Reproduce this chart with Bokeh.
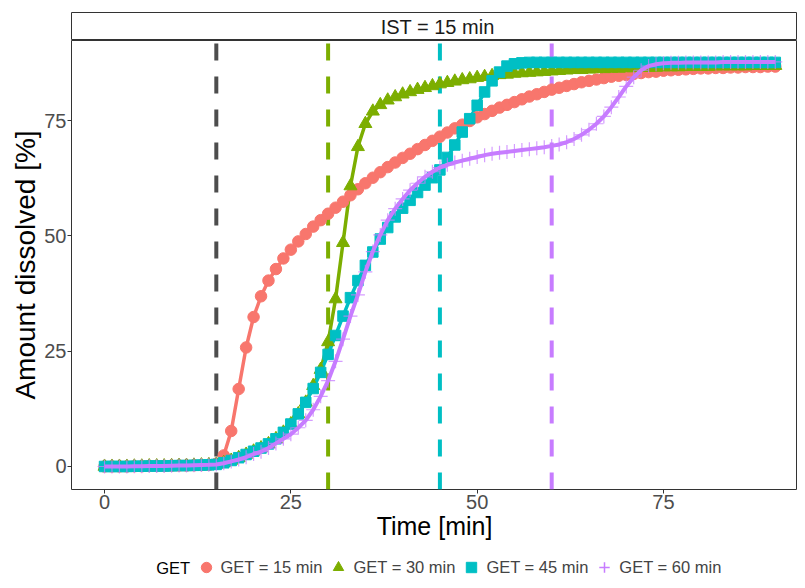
from bokeh.plotting import figure
from bokeh.layouts import column
from bokeh.models import Range1d, FixedTicker, Label, Legend, LegendItem
from bokeh.embed import file_html
from bokeh.resources import INLINE

# ---------------- data ----------------
time_min = list(range(0, 91))
get_labels = ["GET = 15 min", "GET = 30 min", "GET = 45 min", "GET = 60 min"]
get_times = [15, 30, 45, 60]
ist_time = 15
strip_text = "IST = 15 min"
legend_title = "GET"
x_ticks = [0, 25, 50, 75]
y_ticks = [0, 25, 50, 75]

base = [0.0, 0.0, 0.0, 0.0, 0.05, 0.05, 0.1, 0.1, 0.1, 0.15, 0.2, 0.2, 0.25, 0.3, 0.35]

red = base + [0.6, 2.4, 7.7, 16.8, 25.8, 32.4, 36.9, 40.3, 42.8, 45.1,
              47.0, 48.8, 50.4, 52.0, 53.4, 54.8, 56.1, 57.4, 58.8, 60.1,
              61.4, 62.6, 63.8, 64.9, 65.9, 66.9, 67.8, 68.8, 69.7, 70.6,
              71.5, 72.4, 73.3, 74.1, 74.9, 75.7, 76.4, 77.1, 77.8, 78.4,
              79.0, 79.6, 80.2, 80.7, 81.2, 81.7, 82.1, 82.5, 82.9, 83.3,
              83.6, 83.9, 84.2, 84.5, 84.7, 84.9, 85.1, 85.3, 85.5, 85.6,
              85.8, 85.9, 86.0, 86.1, 86.2, 86.3, 86.3, 86.4, 86.4, 86.5,
              86.5, 86.6, 86.6, 86.6, 86.7, 86.7]

green = base + [0.45, 0.8, 1.3, 1.9, 2.6, 3.3, 4.0, 4.9, 6.0, 7.4,
                9.2, 11.4, 13.9, 17.5, 21.0, 27.0, 36.3, 48.5, 60.8, 69.3,
                74.3, 77.0, 78.4, 79.4, 80.1, 80.7, 81.2, 81.7, 82.1, 82.5,
                82.9, 83.2, 83.5, 83.8, 84.0, 84.3, 84.5, 84.7, 84.9, 85.0,
                85.2, 85.3, 85.4, 85.5, 85.6, 85.7, 85.8, 85.9, 86.0, 86.0,
                86.1, 86.2, 86.2, 86.3, 86.3, 86.4, 86.4, 86.5, 86.5, 86.5,
                86.6, 86.6, 86.6, 86.7, 86.7, 86.7, 86.7, 86.8, 86.8, 86.8,
                86.8, 86.8, 86.9, 86.9, 86.9, 86.9]

cyan = base + [0.45, 0.8, 1.3, 1.9, 2.6, 3.3, 4.0, 4.9, 6.0, 7.4,
               9.2, 11.4, 13.9, 16.9, 20.4, 24.3, 28.4, 32.6, 36.6, 40.3,
               43.6, 46.5, 49.3, 51.8, 54.1, 56.0, 57.7, 59.4, 61.0, 62.6,
               64.3, 67.0, 69.7, 72.5, 75.4, 78.3, 81.2, 83.6, 85.5, 86.8,
               87.3, 87.5, 87.6, 87.6, 87.6, 87.6, 87.6, 87.6, 87.6, 87.6,
               87.6, 87.6, 87.6, 87.6, 87.6, 87.6, 87.6, 87.6, 87.6, 87.6,
               87.6, 87.6, 87.6, 87.6, 87.6, 87.6, 87.6, 87.6, 87.6, 87.6,
               87.6, 87.6, 87.6, 87.6, 87.6, 87.6]

purple = base + [0.45, 0.7, 1.1, 1.5, 2.0, 2.7, 3.2, 4.0, 5.0, 6.0,
                 7.0, 8.4, 10.0, 12.3, 15.2, 18.6, 22.8, 27.6, 32.6, 37.2,
                 42.2, 46.6, 50.2, 53.4, 55.9, 58.0, 59.9, 61.4, 62.8, 63.9,
                 64.8, 65.4, 65.9, 66.3, 66.7, 67.1, 67.5, 67.8, 68.0, 68.2,
                 68.4, 68.6, 68.8, 69.0, 69.2, 69.5, 69.8, 70.3, 71.0, 71.9,
                 73.0, 74.3, 75.9, 77.9, 80.1, 82.4, 84.4, 85.9, 86.8, 87.2,
                 87.4, 87.5, 87.5, 87.6, 87.6, 87.6, 87.6, 87.6, 87.7, 87.7,
                 87.7, 87.7, 87.7, 87.7, 87.7, 87.7]

series = [red, green, cyan, purple]
colors = ["#F8766D", "#7CAE00", "#00BFC4", "#C77CFF"]
ist_color = "#4D4D4D"

# ---------------- styling / layout ----------------
FONT = "Liberation Sans"
W = 797
LEFT = 71
x_range = Range1d(-4.43, 92.98)
y_lo, y_hi = -4.99, 92.35

# --- facet strip ---
strip = figure(width=W, height=40, output_backend="svg", toolbar_location=None,
               title=None, x_range=x_range, y_range=Range1d(0, 1),
               x_axis_location=None, y_axis_location=None,
               min_border_left=LEFT, min_border_right=0, min_border_top=12,
               min_border_bottom=0)
strip.grid.visible = False
strip.outline_line_color = "#333333"
strip.outline_line_width = 1
strip.background_fill_color = "white"
strip.border_fill_color = "white"
strip.add_layout(Label(x=44.7, y=0.5, text=strip_text, text_align="center",
                       text_baseline="middle", text_font=FONT,
                       text_font_size="20px", text_color="#1A1A1A"))

# --- main panel ---
p = figure(width=W, height=507, output_backend="svg", toolbar_location=None,
           title=None, x_range=x_range, y_range=Range1d(y_lo, y_hi),
           min_border_left=LEFT, min_border_right=0, min_border_top=0,
           min_border_bottom=58)
p.grid.visible = False
p.outline_line_color = "#333333"
p.outline_line_width = 1
p.background_fill_color = "white"
p.border_fill_color = "white"

for ax, ticks in ((p.xaxis, x_ticks), (p.yaxis, y_ticks)):
    ax.ticker = FixedTicker(ticks=ticks)
    ax.axis_line_color = None
    ax.major_tick_line_color = "#333333"
    ax.major_tick_line_width = 1
    ax.major_tick_out = 4
    ax.major_tick_in = 0
    ax.minor_tick_line_color = None
    ax.major_label_text_font = FONT
    ax.major_label_text_font_size = "20px"
    ax.major_label_text_color = "#4D4D4D"
    ax.major_label_standoff = 1
    ax.axis_label_text_font = FONT
    ax.axis_label_text_font_style = "normal"
    ax.axis_label_text_color = "black"
    ax.axis_label_standoff = 0

p.xaxis.axis_label = "Time [min]"
p.xaxis.axis_label_text_font_size = "25px"
p.yaxis.axis_label = "Amount dissolved [%]"
p.yaxis.axis_label_text_font_size = "28px"

# vertical dashed lines (GET lines, then the IST line on top)
vl_x = [t for t in get_times if t != ist_time]
vl_c = [c for t, c in zip(get_times, colors) if t != ist_time]
p.segment(x0=vl_x, y0=[y_lo] * len(vl_x), x1=vl_x, y1=[y_hi] * len(vl_x),
          line_color=vl_c, line_width=4, line_dash="17 16")
p.segment(x0=[ist_time], y0=[y_lo], x1=[ist_time], y1=[y_hi],
          line_color=ist_color, line_width=4, line_dash="17 16")

# curves
for i in range(3):
    p.line(time_min, series[i], line_color=colors[i], line_width=3.5)
p.scatter(time_min, red, marker="circle", size=11.5, color=colors[0])
p.scatter(time_min, green, marker="triangle", size=13, color=colors[1])
p.scatter(time_min, cyan, marker="square", size=10.5, color=colors[2])
p.scatter(time_min, purple, marker="cross", size=14, line_color=colors[3],
          line_width=1.2, line_alpha=0.75)
p.line(time_min, purple, line_color=colors[3], line_width=4)

# --- legend row ---
leg = figure(width=W, height=33, output_backend="svg", toolbar_location=None,
             title=None, x_range=x_range, y_range=Range1d(0, 33),
             x_axis_location=None, y_axis_location=None,
             min_border_left=LEFT, min_border_right=0, min_border_top=0,
             min_border_bottom=0)
leg.grid.visible = False
leg.outline_line_color = None
leg.background_fill_color = "white"
leg.border_fill_color = "white"

kw = [dict(marker="circle", size=11, color=colors[0]),
      dict(marker="triangle", size=13, color=colors[1]),
      dict(marker="square", size=10, color=colors[2]),
      dict(marker="cross", size=13, line_color=colors[3], line_width=1.5)]
leg_r = []
for i in range(4):
    r = leg.scatter(time_min, series[i], **kw[i])
    r.visible = False
    leg_r.append(r)

legend = Legend(items=[LegendItem(label=get_labels[i], renderers=[leg_r[i]]) for i in range(4)],
                orientation="horizontal", location=(192.5 - LEFT, 0),
                glyph_width=26, glyph_height=26, label_standoff=2, spacing=3,
                padding=0, margin=0, border_line_color=None,
                background_fill_alpha=0, label_text_font=FONT,
                label_text_font_size="16.5px", label_height=20)
leg.add_layout(legend)
leg.add_layout(Label(x=155.7 - LEFT, y=13, x_units="screen", text=legend_title,
                     text_align="left", text_baseline="middle", text_font=FONT,
                     text_font_size="16.5px", text_color="black"))

layout = column(strip, p, leg, spacing=0)
open("out.html", "w").write(file_html(layout, INLINE))
